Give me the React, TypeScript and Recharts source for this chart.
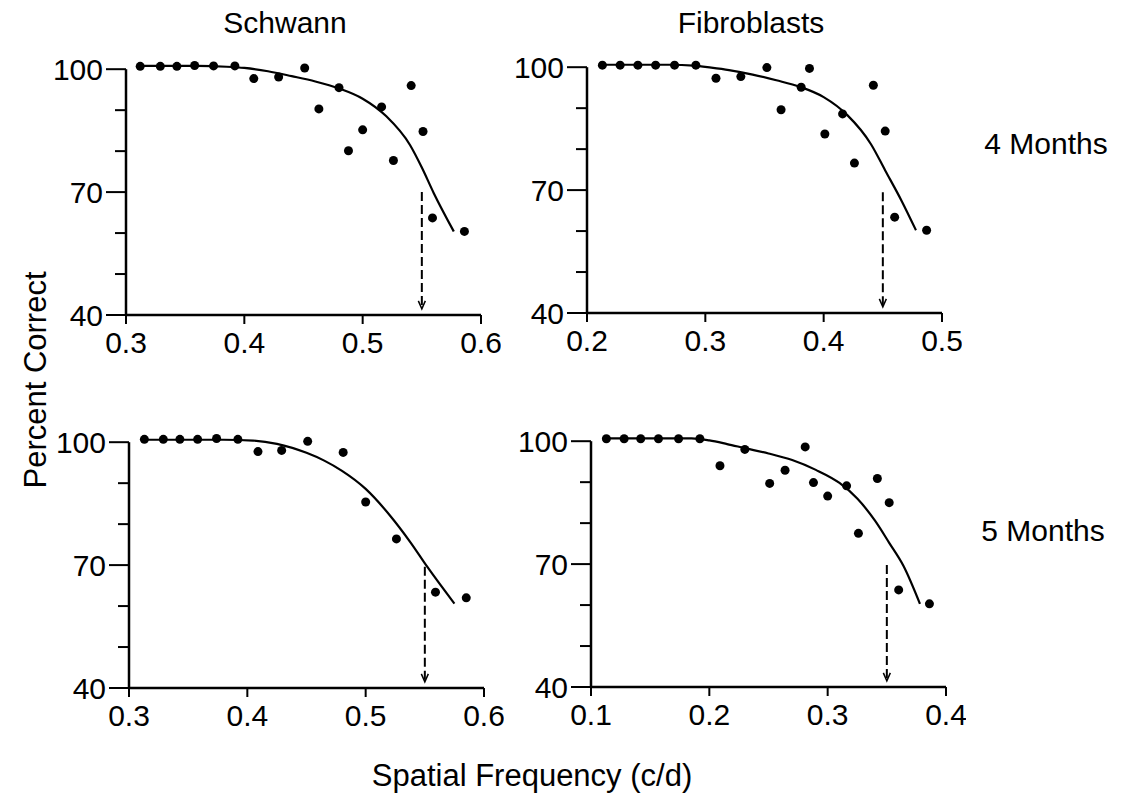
import { ComposedChart, Line, Scatter, XAxis, YAxis, ReferenceLine } from "recharts";

// data: [spatial frequency (c/d), percent correct]
const schwann4Points = [
  [0.312, 100.7], [0.329, 100.7], [0.343, 100.7], [0.358, 100.9], [0.374, 100.8], [0.392, 100.8],
  [0.408, 97.7], [0.429, 98.1], [0.451, 100.3], [0.463, 90.3], [0.48, 95.5], [0.488, 80.1],
  [0.5, 85.2], [0.516, 90.8], [0.526, 77.7], [0.541, 96.0], [0.551, 84.8], [0.559, 63.7], [0.586, 60.4],
];
const schwann4Fit = [
  [0.312, 100.8], [0.36, 100.8], [0.385, 100.6], [0.4, 100.3], [0.42, 99.5], [0.44, 98.3],
  [0.46, 97.0], [0.48, 95.3], [0.5, 92.8], [0.52, 88.5], [0.54, 81.5], [0.55, 76.0],
  [0.56, 69.8], [0.577, 60.4],
];

const fibro4Points = [
  [0.213, 100.5], [0.228, 100.5], [0.243, 100.5], [0.258, 100.5], [0.274, 100.5], [0.292, 100.5],
  [0.309, 97.3], [0.33, 97.7], [0.352, 99.9], [0.364, 89.6], [0.381, 95.1], [0.388, 99.7],
  [0.401, 83.7], [0.416, 88.6], [0.426, 76.6], [0.442, 95.6], [0.452, 84.4], [0.46, 63.4], [0.487, 60.2],
];
const fibro4Fit = [
  [0.213, 100.6], [0.27, 100.6], [0.29, 100.4], [0.305, 99.9], [0.32, 99.3], [0.34, 98.2],
  [0.36, 96.8], [0.38, 95.2], [0.4, 92.7], [0.42, 88.3], [0.44, 81.2], [0.452, 74.8],
  [0.466, 67.3], [0.478, 60.2],
];

const schwann5Points = [
  [0.313, 100.7], [0.329, 100.7], [0.343, 100.7], [0.358, 100.7], [0.374, 100.9], [0.392, 100.7],
  [0.409, 97.7], [0.429, 98.0], [0.451, 100.2], [0.481, 97.5], [0.5, 85.4], [0.526, 76.4],
  [0.559, 63.4], [0.585, 62.0],
];
const schwann5Fit = [
  [0.313, 100.6], [0.38, 100.6], [0.405, 100.4], [0.425, 99.6], [0.45, 97.4], [0.465, 95.5],
  [0.48, 93.0], [0.5, 88.6], [0.52, 82.3], [0.538, 75.5], [0.552, 69.6], [0.575, 60.6],
];

const fibro5Points = [
  [0.113, 100.6], [0.128, 100.6], [0.142, 100.6], [0.157, 100.6], [0.174, 100.6], [0.192, 100.6],
  [0.209, 94.0], [0.23, 98.0], [0.251, 89.7], [0.264, 92.9], [0.281, 98.6], [0.288, 89.9],
  [0.3, 86.6], [0.316, 89.1], [0.326, 77.5], [0.342, 90.9], [0.352, 85.0], [0.36, 63.7], [0.386, 60.3],
];
const fibro5Fit = [
  [0.113, 100.7], [0.185, 100.7], [0.2, 100.2], [0.215, 99.3], [0.23, 98.3], [0.25, 97.0],
  [0.27, 95.4], [0.29, 93.0], [0.31, 89.8], [0.325, 86.0], [0.34, 80.6], [0.352, 75.2],
  [0.364, 69.6], [0.378, 60.3],
];

// threshold arrows: [frequency, from %, to %]
const schwann4Threshold = [0.55, 70, 41.5];
const fibro4Threshold = [0.45, 69.5, 41.5];
const schwann5Threshold = [0.55, 69.6, 41.5];
const fibro5Threshold = [0.35, 69.8, 41.5];

const schwannTicks = [0.3, 0.4, 0.5, 0.6];
const fibro4Ticks = [0.2, 0.3, 0.4, 0.5];
const fibro5Ticks = [0.1, 0.2, 0.3, 0.4];
const yTicks = [40, 50, 60, 70, 80, 90, 100];
const yLabels = [40, 70, 100];

const FONT = "'Liberation Sans', Arial, sans-serif";

const toXY = (arr: number[][]) => arr.map(([x, y]) => ({ x, y }));

const YTick = (props: any) => {
  const { x, y, payload } = props;
  const axisX = x + 23;
  const major = yLabels.includes(payload.value);
  return (
    <g>
      <line x1={axisX - (major ? 20 : 11)} x2={axisX} y1={y} y2={y} stroke="#000" strokeWidth={2} />
      {major && (
        <text x={x} y={y} dy="0.36em" textAnchor="end" fontSize={30} fontFamily={FONT} fill="#000">
          {payload.value}
        </text>
      )}
    </g>
  );
};

const Dot = (props: any) => <circle cx={props.cx} cy={props.cy} r={4.5} fill="#000" />;
const ArrowHead = (props: any) => (
  <path
    d={`M${props.cx - 3.5},${props.cy - 8} L${props.cx},${props.cy} L${props.cx + 3.5},${props.cy - 8}`}
    fill="none"
    stroke="#000"
    strokeWidth={1.5}
  />
);

const panels = [
  { id: "s4", points: schwann4Points, fit: schwann4Fit, thr: schwann4Threshold, ticks: schwannTicks, left: 26, top: 61 },
  { id: "f4", points: fibro4Points, fit: fibro4Fit, thr: fibro4Threshold, ticks: fibro4Ticks, left: 487, top: 59 },
  { id: "s5", points: schwann5Points, fit: schwann5Fit, thr: schwann5Threshold, ticks: schwannTicks, left: 29, top: 434 },
  { id: "f5", points: fibro5Points, fit: fibro5Fit, thr: fibro5Threshold, ticks: fibro5Ticks, left: 491, top: 433 },
];

const TOP = 24;

function Panel({ p }: { p: (typeof panels)[number] }) {
  const x0 = p.ticks[0];
  const x1 = p.ticks[p.ticks.length - 1];
  const [tx, tFrom, tTo] = p.thr;
  return (
    <div style={{ position: "absolute", left: p.left, top: p.top - TOP }}>
      <ComposedChart width={475} height={314 + TOP} margin={{ top: TOP, right: 20, bottom: 0, left: 0 }}>
        <XAxis
          type="number"
          dataKey="x"
          domain={[x0, x1]}
          ticks={p.ticks}
          tickFormatter={(v: number) => v.toFixed(1)}
          height={60}
          tickSize={9}
          tickMargin={8}
          axisLine={{ stroke: "#000", strokeWidth: 2.5 }}
          tickLine={{ stroke: "#000", strokeWidth: 2 }}
          tick={{ fill: "#000", fontSize: 30, fontFamily: FONT }}
        />
        <YAxis
          type="number"
          dataKey="y"
          domain={[40, 102]}
          ticks={yTicks}
          width={100}
          tickSize={20}
          tickMargin={3}
          axisLine={false}
          tickLine={false}
          tick={(props: any) => <YTick {...props} />}
        />
        <ReferenceLine
          segment={[{ x: x0, y: 40 }, { x: x0, y: 100 }]}
          stroke="#000"
          strokeWidth={2.5}
          ifOverflow="visible"
        />
        <Line
          data={toXY(p.fit)}
          dataKey="y"
          type="monotone"
          stroke="#000"
          strokeWidth={2.2}
          dot={false}
          isAnimationActive={false}
        />
        <Line
          data={[{ x: tx, y: tFrom }, { x: tx, y: tTo }]}
          dataKey="y"
          type="linear"
          stroke="#000"
          strokeWidth={2}
          strokeDasharray="9 4"
          dot={false}
          isAnimationActive={false}
        />
        <Scatter data={toXY(p.points)} dataKey="y" shape={<Dot />} isAnimationActive={false} />
        <Scatter data={[{ x: tx, y: tTo }]} dataKey="y" shape={<ArrowHead />} isAnimationActive={false} />
      </ComposedChart>
    </div>
  );
}

export default function App() {
  return (
    <div style={{ position: "absolute", left: 0, top: 0, width: 1124, height: 795, background: "#fff", fontFamily: FONT }}>
      <svg width={1124} height={795} style={{ position: "absolute", left: 0, top: 0 }}>
        <g fontFamily={FONT} fontSize={30} fill="#000" textAnchor="middle">
          <text x={285} y={33}>Schwann</text>
          <text x={751} y={33}>Fibroblasts</text>
          <text x={1046} y={154}>4 Months</text>
          <text x={1043} y={541}>5 Months</text>
          <text x={532} y={786} fontSize={31}>Spatial Frequency (c/d)</text>
          <text transform="translate(46,380) rotate(-90)" fontSize={31}>Percent Correct</text>
        </g>
      </svg>
      {panels.map((p) => (
        <Panel key={p.id} p={p} />
      ))}
    </div>
  );
}
